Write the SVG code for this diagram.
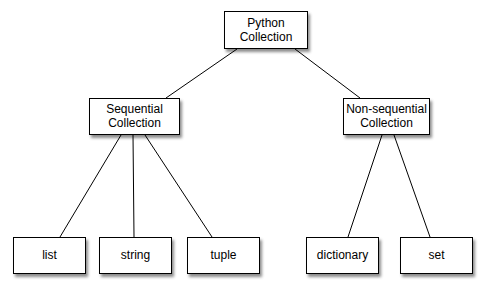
<svg xmlns="http://www.w3.org/2000/svg" width="485" height="289" viewBox="0 0 485 289">
<defs>
<filter id="sh" x="-20%" y="-20%" width="140%" height="160%">
<feDropShadow dx="2" dy="3" stdDeviation="1.5" flood-color="#000" flood-opacity="0.45"/>
</filter>
<style>
.box{fill:#fff;stroke:#000;stroke-width:1;filter:url(#sh)}
.t{font-family:"Liberation Sans",Arial,sans-serif;font-size:12px;fill:#000;text-anchor:middle}
.c{stroke:#000;stroke-width:1;fill:none}
</style>
</defs>
<rect width="485" height="289" fill="#fff"/>
<g id="connectors">
<line class="c" x1="237" y1="49" x2="166" y2="98"/>
<line class="c" x1="295" y1="49" x2="360" y2="98"/>
<line class="c" x1="121" y1="135" x2="60" y2="237"/>
<line class="c" x1="133" y1="135" x2="134" y2="237"/>
<line class="c" x1="145" y1="135" x2="212" y2="237"/>
<line class="c" x1="382" y1="135" x2="348" y2="237"/>
<line class="c" x1="394" y1="135" x2="430" y2="237"/>
</g>
<g id="python">
<rect class="box" x="224.5" y="11.5" width="83" height="37"/>
<text class="t" x="266" y="27">Python</text>
<text class="t" x="266" y="41">Collection</text>
</g>
<g id="sequential">
<rect class="box" x="89.5" y="98.5" width="90" height="36"/>
<text class="t" x="134.5" y="113">Sequential</text>
<text class="t" x="134.5" y="127">Collection</text>
</g>
<g id="nonsequential">
<rect class="box" x="343.5" y="98.5" width="86" height="36"/>
<text class="t" x="386.5" y="113">Non-sequential</text>
<text class="t" x="386.5" y="127">Collection</text>
</g>
<g id="list">
<rect class="box" x="13.5" y="237.5" width="72" height="36"/>
<text class="t" x="49.5" y="259">list</text>
</g>
<g id="string">
<rect class="box" x="99.5" y="237.5" width="72" height="36"/>
<text class="t" x="135.5" y="259">string</text>
</g>
<g id="tuple">
<rect class="box" x="187.5" y="237.5" width="72" height="36"/>
<text class="t" x="223.5" y="259">tuple</text>
</g>
<g id="dictionary">
<rect class="box" x="306.5" y="237.5" width="72" height="36"/>
<text class="t" x="342.5" y="259">dictionary</text>
</g>
<g id="set">
<rect class="box" x="400.5" y="237.5" width="72" height="36"/>
<text class="t" x="436.5" y="259">set</text>
</g>
</svg>
